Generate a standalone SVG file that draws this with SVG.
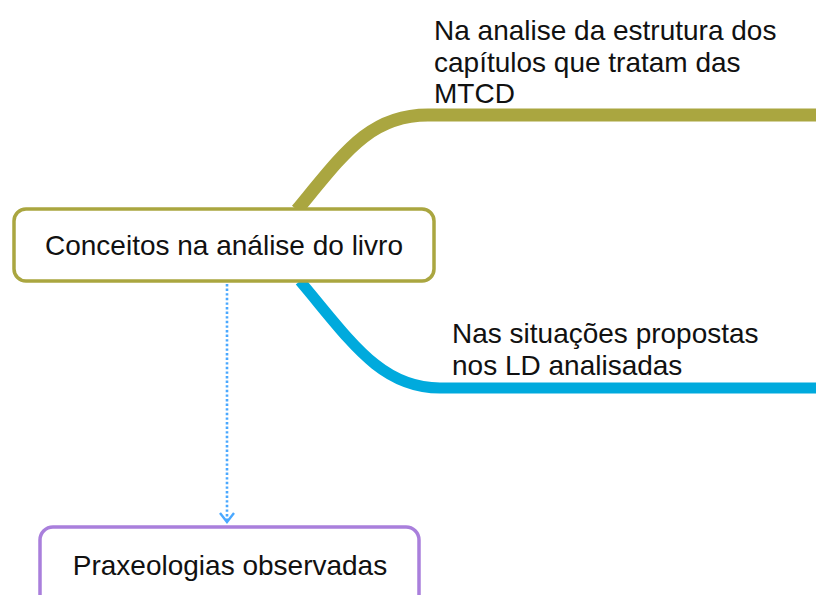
<svg xmlns="http://www.w3.org/2000/svg" width="816" height="595" viewBox="0 0 816 595">
<style>
.t{font-family:"Liberation Sans",Arial,Helvetica,sans-serif;font-size:28px;fill:#111;}
.box{fill:#fff;stroke-width:3.5;}
</style>
<rect width="816" height="595" fill="#fff"/>
<g id="connectors" fill="none">
<path d="M297 210 C345 152,370 115,428 115 H816" stroke="#aaa640" stroke-width="13"/>
<path d="M300 281 C350 340,380 388,440 388 H816" stroke="#00aadd" stroke-width="11"/>
<path d="M227 284 V521" stroke="#4aa8ff" stroke-width="2.6" stroke-dasharray="2.4 2.2"/>
<path d="M220 513 L227 522 L234 513" stroke="#4aa8ff" stroke-width="2.4"/>
</g>
<g id="label-top">
<text class="t" x="434" y="40">Na analise da estrutura dos</text>
<text class="t" x="434" y="72">capítulos que tratam das</text>
<text class="t" x="434" y="103">MTCD</text>
</g>
<g id="label-bottom">
<text class="t" x="452" y="343">Nas situações propostas</text>
<text class="t" x="452" y="375">nos LD analisadas</text>
</g>
<g id="node-conceitos">
<rect class="box" x="14" y="209" width="420" height="72" rx="12" stroke="#aaa640"/>
<text class="t" x="224" y="255" text-anchor="middle">Conceitos na análise do livro</text>
</g>
<g id="node-praxeologias">
<rect class="box" x="40" y="527" width="379" height="90" rx="13" stroke="#a97fdc"/>
<text class="t" x="230" y="575" text-anchor="middle">Praxeologias observadas</text>
</g>
</svg>
